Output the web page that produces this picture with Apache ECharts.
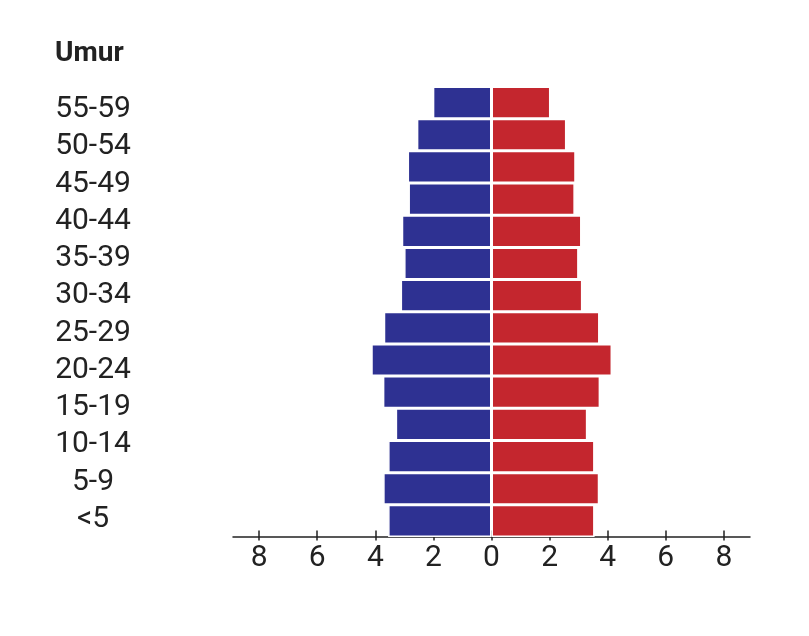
<!DOCTYPE html>
<html>
<head>
<meta charset="utf-8">
<script src="https://cdn.jsdelivr.net/npm/echarts@6/dist/echarts.min.js"></script>
<style>
  html, body { margin: 0; padding: 0; background: #fff; }
  #pyramid { width: 809px; height: 636px; }
</style>
</head>
<body>
<div id="pyramid"></div>
<script>
// 14 bar rows, top to bottom (the picture shows 14 bars against 12 labels)
const barRows = ['65-69', '60-64', '55-59', '50-54', '45-49', '40-44', '35-39',
  '30-34', '25-29', '20-24', '15-19', '10-14', '5-9', '<5'];
// labels printed on the left, top to bottom
const ageLabels = ['55-59', '50-54', '45-49', '40-44', '35-39', '30-34',
  '25-29', '20-24', '15-19', '10-14', '5-9', '<5'];
// percent, top to bottom
const leftValues = [2.02, 2.57, 2.89, 2.86, 3.09, 3.01, 3.13, 3.71, 4.14, 3.74, 3.30, 3.56, 3.73, 3.56];
const rightValues = [2.03, 2.58, 2.90, 2.87, 3.10, 3.00, 3.13, 3.72, 4.15, 3.74, 3.30, 3.55, 3.71, 3.55];
const tickValues = [-8, -6, -4, -2, 0, 2, 4, 6, 8];

const chart = echarts.init(document.getElementById('pyramid'));
const font = 'Roboto';
const ink = '#222';

chart.setOption({
  animation: false,
  title: {
    text: 'Umur',
    left: 55,
    top: 40,
    padding: 0,
    textStyle: { fontFamily: font, fontSize: 28, fontWeight: 'bold', color: ink }
  },
  grid: [
    { left: 233, right: 59, top: 86.5, bottom: 99 },
    { left: 150, width: 40, top: 91, bottom: 98 }
  ],
  xAxis: [
    {
      gridIndex: 0, type: 'value', min: -8.9, max: 8.9,
      axisLine: { show: true, lineStyle: { color: ink, width: 1.5 } },
      axisTick: { show: true, length: 3.5, customValues: tickValues, lineStyle: { color: ink, width: 1.5 } },
      axisLabel: {
        customValues: tickValues, margin: 6,
        formatter: v => String(Math.abs(v)),
        fontFamily: font, fontSize: 30, color: ink
      },
      splitLine: { show: false }
    },
    {
      gridIndex: 0, type: 'value', min: -8.9, max: 8.9, position: 'bottom',
      axisLine: { show: false },
      axisTick: { show: true, inside: true, length: 6.5, customValues: tickValues, lineStyle: { color: ink, width: 1.5 } },
      axisLabel: { show: false },
      splitLine: { show: false }
    },
    { gridIndex: 1, type: 'value', show: false }
  ],
  yAxis: [
    {
      gridIndex: 0, type: 'category', data: barRows, inverse: true,
      axisLine: { show: false }, axisTick: { show: false }, axisLabel: { show: false }
    },
    {
      gridIndex: 1, type: 'category', data: ageLabels, inverse: true,
      axisLine: { show: false }, axisTick: { show: false },
      axisLabel: {
        interval: 0, hideOverlap: false, align: 'center', margin: 57,
        fontFamily: font, fontSize: 30, color: ink
      }
    }
  ],
  series: [
    {
      type: 'bar', stack: 'p', xAxisIndex: 0, yAxisIndex: 0,
      barCategoryGap: 0,
      data: leftValues.map(v => -v),
      itemStyle: { color: '#2e3192', borderColor: '#fff', borderWidth: 1.5 }
    },
    {
      type: 'bar', stack: 'p', xAxisIndex: 0, yAxisIndex: 0,
      barCategoryGap: 0,
      data: rightValues,
      itemStyle: { color: '#c4262e', borderColor: '#fff', borderWidth: 1.5 }
    }
  ]
});
</script>
</body>
</html>
